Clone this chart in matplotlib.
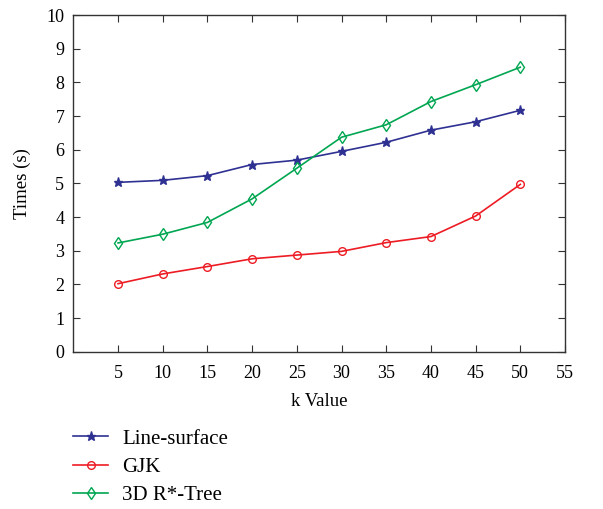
import matplotlib
matplotlib.use("Agg")
import matplotlib.pyplot as plt

# Data.
k_values = [5, 10, 15, 20, 25, 30, 35, 40, 45, 50]
line_surface = [5.03, 5.09, 5.23, 5.56, 5.69, 5.95, 6.22, 6.58, 6.83, 7.17]
gjk = [2.02, 2.31, 2.53, 2.76, 2.87, 2.98, 3.24, 3.42, 4.03, 4.97]
rtree_3d = [3.23, 3.49, 3.84, 4.54, 5.45, 6.37, 6.74, 7.43, 7.93, 8.45]
series_names = ["Line-surface", "GJK", "3D R*-Tree"]
x_ticks = [5, 10, 15, 20, 25, 30, 35, 40, 45, 50, 55]
y_ticks = list(range(0, 11))

plt.rcParams['font.family'] = ['Liberation Serif', 'DejaVu Serif']

fig = plt.figure(figsize=(6.03, 5.09), dpi=100)
ax = fig.add_axes([0.1216, 0.309, 0.8154, 0.6615])

l1, = ax.plot(k_values, line_surface, color='#2e3192', lw=1.2, marker='*',
              ms=6.5, mfc='#2e3192', mec='#2e3192')
l2, = ax.plot(k_values, gjk, color='#ed1c24', lw=1.2, marker='o',
              ms=5.5, mfc='none', mec='#ed1c24', mew=1.0)
l3, = ax.plot(k_values, rtree_3d, color='#00a651', lw=1.2, marker='d',
              ms=6.5, mfc='none', mec='#00a651', mew=1.0)

ax.set_xlim(0, 55)
ax.set_ylim(0, 10)
ax.set_xticks(x_ticks)
ax.set_yticks(y_ticks)
ax.tick_params(direction='in', top=True, right=True, labelsize=13,
               length=5, width=0.8, color='#333333')
ax.tick_params(axis='x', pad=9.5)
ax.tick_params(axis='y', pad=6.5)
for spine in ax.spines.values():
    spine.set_color('#333333')
    spine.set_linewidth(1.0)

ax.set_xlabel("k Value", fontsize=13.5, labelpad=8)
ax.set_ylabel("Times (s)", fontsize=13.5, labelpad=11)

fig.legend([l1, l2, l3], series_names, loc='upper left',
           bbox_to_anchor=(0.121, 0.157), frameon=False, fontsize=15,
           handlelength=1.7, labelspacing=0.42, handletextpad=0.65,
           borderaxespad=0, borderpad=0)

fig.savefig("out.png", dpi=100)
